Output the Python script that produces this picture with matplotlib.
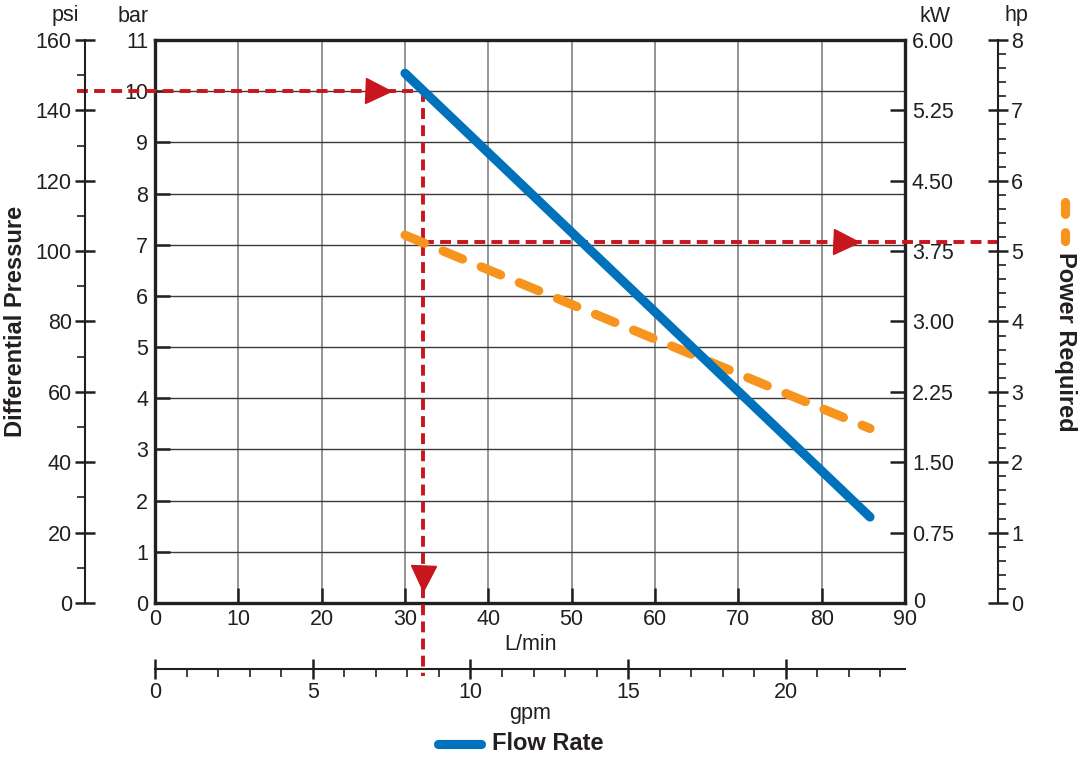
import numpy as np
import matplotlib
matplotlib.use("Agg")
import matplotlib.pyplot as plt
from matplotlib.lines import Line2D
import matplotlib.transforms as mtransforms

plt.rcParams['font.family'] = ['Liberation Sans', 'DejaVu Sans']

# curve data (flow in L/min)
flow_lpm = [30, 85.8]
flow_bar = [10.35, 1.68]          # pressure vs flow
power_lpm = [30, 85.8]
power_kw = [3.92, 1.86]           # power required

# operating point shown with the red guide lines
op_pressure_bar = 10
op_flow_lpm = 32.2
op_power_kw = 3.85

# axis scales
bar_max = 11
psi_max = 160
kw_max = 6.0
hp_max = 8
lpm_max = 90
lpm_per_gpm = 3.785

bar_ticks = list(range(0, 12))
psi_ticks = list(range(0, 161, 20))
kw_ticks = [0, 0.75, 1.50, 2.25, 3.00, 3.75, 4.50, 5.25, 6.00]
kw_labels = ['0', '0.75', '1.50', '2.25', '3.00', '3.75', '4.50', '5.25', '6.00']
hp_ticks = list(range(0, 9))
lpm_ticks = list(range(0, 91, 10))
gpm_ticks = [0, 5, 10, 15, 20]

BLUE = '#0072bc'
ORANGE = '#f7941d'
RED = '#c8161e'
INK = '#231f20'
FS = 15.5
LW = 6.6

W, H = 1078, 761
fig = plt.figure(figsize=(W / 100, H / 100), dpi=100)
ax = fig.add_axes([155 / W, 1 - 603 / H, 750 / W, 563 / H])
ax.set_xlim(0, lpm_max)
ax.set_ylim(0, bar_max)

# grid
for x in lpm_ticks[1:-1]:
    ax.axvline(x, color='#8c8c8c', lw=1.3, zorder=1)
for y in bar_ticks[1:-1]:
    ax.axhline(y, color='#3a3a3a', lw=1.0, zorder=1)

for s in ax.spines.values():
    s.set_linewidth(2.4)
    s.set_color(INK)
    s.set_zorder(5)

ax.set_xticks(lpm_ticks)
ax.set_yticks(bar_ticks)
ax.tick_params(axis='both', direction='in', length=11, width=1.8, color=INK,
               labelsize=FS, labelcolor=INK, pad=5)
ax.tick_params(axis='x', pad=4)
ax.set_xlabel('L/min', fontsize=FS, color=INK, labelpad=3)

# psi axis
psi_pos = -70 / 750
ax_psi = ax.twinx()
ax_psi.set_ylim(0, psi_max)
for k in ['top', 'bottom', 'right']:
    ax_psi.spines[k].set_visible(False)
ax_psi.spines['left'].set_position(('axes', psi_pos))
ax_psi.spines['left'].set_linewidth(1.5)
ax_psi.spines['left'].set_color(INK)
ax_psi.yaxis.set_ticks_position('left')
ax_psi.yaxis.set_label_position('left')
ax_psi.set_yticks(psi_ticks)
ax_psi.set_yticks(list(range(10, 160, 20)), minor=True)
ax_psi.tick_params(axis='y', which='major', direction='inout', length=15, width=1.8,
                   color=INK, labelsize=FS, labelcolor=INK, pad=2)
ax_psi.tick_params(axis='y', which='minor', direction='out', length=6, width=1.2, color=INK)
ax_psi.set_ylabel('Differential Pressure', fontsize=17, fontweight='bold', color=INK, labelpad=6)

# kW axis
ax_kw = ax.twinx()
ax_kw.set_ylim(0, kw_max)
for k in ['top', 'bottom', 'left', 'right']:
    ax_kw.spines[k].set_visible(False)
ax_kw.set_yticks(kw_ticks)
ax_kw.set_yticklabels(kw_labels)
ax_kw.tick_params(axis='y', direction='in', length=11, width=1.8, color=INK,
                  labelsize=FS, labelcolor=INK, pad=5)
# lift the bottom "0" a little so it clears the "90" below it
zero_lbl = ax_kw.get_yticklabels()[0]
zero_lbl.set_transform(zero_lbl.get_transform() +
                       mtransforms.ScaledTranslation(1 / 100, 3 / 100, fig.dpi_scale_trans))

# hp axis
ax_hp = ax.twinx()
ax_hp.set_ylim(0, hp_max)
for k in ['top', 'bottom', 'left']:
    ax_hp.spines[k].set_visible(False)
ax_hp.spines['right'].set_position(('axes', 843 / 750))
ax_hp.spines['right'].set_linewidth(1.5)
ax_hp.spines['right'].set_color(INK)
ax_hp.set_yticks(hp_ticks)
ax_hp.set_yticks([v / 5 for v in range(0, 41) if v % 5], minor=True)
ax_hp.tick_params(axis='y', which='major', direction='inout', length=15, width=1.8,
                  color=INK, labelsize=FS, labelcolor=INK, pad=2)
ax_hp.tick_params(axis='y', which='minor', direction='out', length=6, width=1.2, color=INK)

# gpm axis
ax_gpm = ax.twiny()
ax_gpm.set_xlim(0, lpm_max / lpm_per_gpm)
for k in ['top', 'left', 'right']:
    ax_gpm.spines[k].set_visible(False)
ax_gpm.spines['bottom'].set_position(('axes', -66 / 563))
ax_gpm.spines['bottom'].set_linewidth(1.5)
ax_gpm.spines['bottom'].set_color(INK)
ax_gpm.xaxis.set_ticks_position('bottom')
ax_gpm.xaxis.set_label_position('bottom')
ax_gpm.set_xticks(gpm_ticks)
ax_gpm.set_xticks([v for v in range(1, 24) if v % 5], minor=True)
ax_gpm.tick_params(axis='x', which='major', direction='inout', length=14, width=1.8,
                   color=INK, labelsize=FS, labelcolor=INK, pad=2)
ax_gpm.tick_params(axis='x', which='minor', direction='out', length=6, width=1.2, color=INK)
ax_gpm.set_xlabel('gpm', fontsize=FS, color=INK, labelpad=0)

# curves
orange_dash = (0, (2.3, 2.2))
ax_kw.plot(power_lpm, power_kw, color=ORANGE, lw=LW, ls=orange_dash,
           dash_capstyle='round', zorder=3)
ax_kw.plot(flow_lpm, np.array(flow_bar) / bar_max * kw_max, color=BLUE, lw=LW,
           solid_capstyle='round', zorder=4)

# red guide lines
op_power_bar = op_power_kw / kw_max * bar_max
x_psi = psi_pos * lpm_max - 0.9
x_hp = 843 / 750 * lpm_max
guide = dict(color=RED, lw=2.8, ls=(0, (2.8, 1.6)), clip_on=False, zorder=6)
ax.plot([x_psi, op_flow_lpm], [op_pressure_bar, op_pressure_bar], **guide)
ax.plot([op_flow_lpm, op_flow_lpm], [op_pressure_bar, -0.13 * bar_max], **guide)
ax.plot([op_flow_lpm, x_hp], [op_power_bar, op_power_bar], **guide)
arrow = dict(color=RED, ms=18, ls='none', clip_on=False, zorder=7)
ax.plot([26.8], [op_pressure_bar], marker='>', **arrow)
ax.plot([82.9], [op_power_bar], marker='>', **arrow)
ax.plot([op_flow_lpm], [0.49], marker='v', **arrow)

# unit headers
for txt, px in [('psi', 65), ('bar', 133), ('kW', 935), ('hp', 1016)]:
    fig.text(px / W, 1 - 16 / H, txt, ha='center', va='center', fontsize=FS, color=INK)

# legends
fig.add_artist(Line2D([438 / W, 481 / W], [1 - 744 / H] * 2, color=BLUE, lw=LW,
                      solid_capstyle='round'))
fig.text(492 / W, 1 - 744 / H, 'Flow Rate', ha='left', va='center', fontsize=17,
         fontweight='bold', color=INK)
fig.add_artist(Line2D([1065 / W] * 2, [1 - 202 / H, 1 - 241 / H], color=ORANGE, lw=LW,
                      ls=(0, (1.3, 2.0)), dash_capstyle='round'))
fig.text(1066 / W, 1 - 342 / H, 'Power Required', ha='center', va='center', rotation=-90,
         fontsize=17, fontweight='bold', color=INK)

fig.savefig('out.png', dpi=100)
